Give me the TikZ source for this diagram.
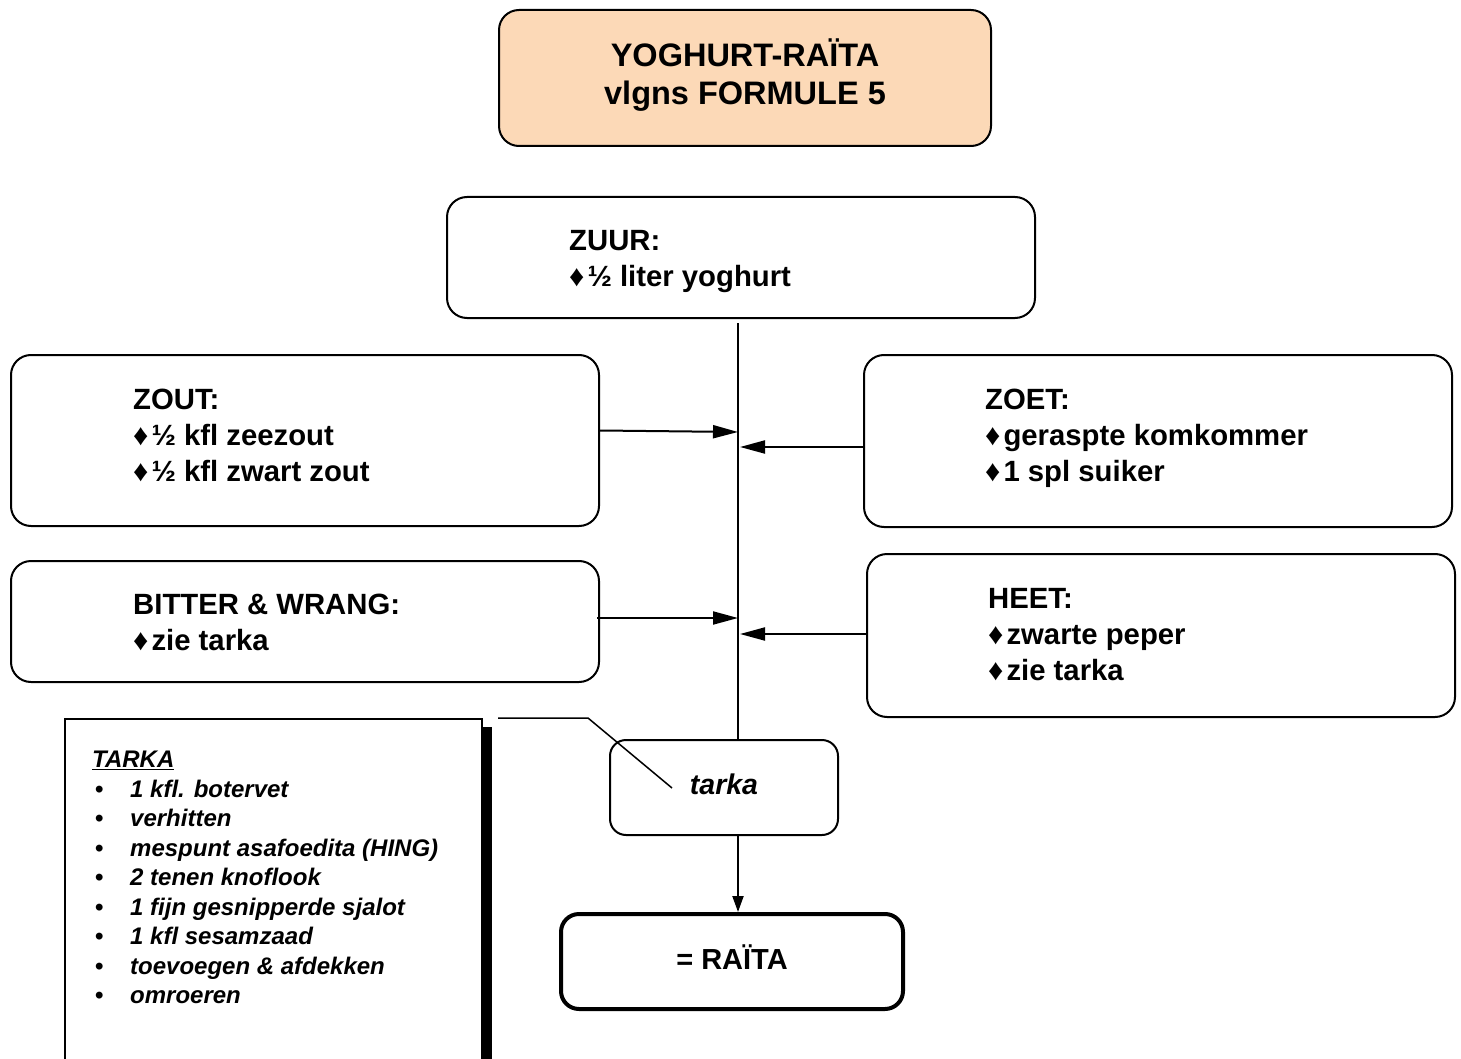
\documentclass[tikz,border=0pt]{standalone}
\usepackage{fontspec}
\setmainfont{Liberation Sans}
\usetikzlibrary{arrows.meta}
\definecolor{peach}{RGB}{252,217,183}
\newcommand{\dia}{{\fontsize{30}{30}\selectfont♦}\hspace{3pt}}
\newcommand{\lbul}{\makebox[38pt][l]{\hspace{3pt}\upshape•}}
\begin{document}
\begin{tikzpicture}[x=1pt,y=-1pt,
  box/.style={draw, line width=2pt, rounded corners=20pt, inner sep=0pt},
  listtext/.style={anchor=west, inner sep=0pt, align=left,
    font=\bfseries\fontsize{29.3}{36}\selectfont},
  conn/.style={line width=2pt},
  arr/.style={conn, -{Triangle[length=25pt,width=13pt]}},
  arrsmall/.style={conn, -{Triangle[length=16pt,width=11pt]}},
]
\clip (0,0) rectangle (1461,1059);
\fill[white] (0,0) rectangle (1461,1059);

% title
\node[box, fill=peach, minimum width=492pt, minimum height=136pt] (title) at (745,78) {};
\node[inner sep=0pt, align=center, font=\bfseries\fontsize{32.5}{38}\selectfont] (titletext) at (745,75)
  {YOGHURT-RAÏTA\\vlgns FORMULE 5};

% taste boxes
\node[box, minimum width=588pt, minimum height=121pt] (zuur) at (741,257.5) {};
\node[listtext] (zuurtext) at ([xshift=123pt,yshift=-4pt]zuur.west) {ZUUR:\\\dia½ liter yoghurt};
\node[box, minimum width=588pt, minimum height=171pt] (zout) at (305,440.5) {};
\node[listtext] (zouttext) at ([xshift=123pt,yshift=5pt]zout.west) {ZOUT:\\\dia½ kfl zeezout\\\dia½ kfl zwart zout};
\node[box, minimum width=588pt, minimum height=172pt] (zoet) at (1158,441) {};
\node[listtext] (zoettext) at ([xshift=122pt,yshift=3pt]zoet.west) {ZOET:\\\dia geraspte komkommer\\\dia 1 spl suiker};
\node[box, minimum width=588pt, minimum height=121pt] (bitter) at (305,621.5) {};
\node[listtext] (bittertext) at ([xshift=123pt,yshift=-1pt]bitter.west) {BITTER \& WRANG:\\\dia zie tarka};
\node[box, minimum width=588pt, minimum height=163pt] (heet) at (1161,635.5) {};
\node[listtext] (heettext) at ([xshift=122pt,yshift=1pt]heet.west) {HEET:\\\dia zwarte peper\\\dia zie tarka};

% tarka and result
\node[box, rounded corners=16pt, minimum width=228pt, minimum height=95pt,
  text height=20pt, text depth=6pt,
  font=\bfseries\itshape\fontsize{28.5}{34}\selectfont] (tarka) at (724,787.5) {tarka};
\node[box, line width=4pt, rounded corners=18pt, minimum width=342pt, minimum height=95pt,
  text height=21pt, text depth=6pt,
  font=\bfseries\fontsize{29}{34}\selectfont] (raita) at (732,961.5) {= RAÏTA};

% recipe box with shadow
\fill (481,727) rectangle (492,1080);
\node[draw, line width=1.5pt, fill=white, minimum width=417pt, minimum height=362pt,
  anchor=north west, inner sep=0pt] (recipe) at (64,718) {};
\node[anchor=north west, inner sep=0pt, align=left,
  font=\bfseries\itshape\fontsize{24}{29.5}\selectfont] (recipetext) at (92,751)
  {\underline{TARKA}\\
   \lbul 1 kfl. botervet\\
   \lbul verhitten\\
   \lbul mespunt asafoedita (HING)\\
   \lbul 2 tenen knoflook\\
   \lbul 1 fijn gesnipperde sjalot\\
   \lbul 1 kfl sesamzaad\\
   \lbul toevoegen \& afdekken\\
   \lbul omroeren};

% spine
\coordinate (spine) at (738,0);
\coordinate (s1) at (738,432);
\coordinate (s2) at (740,447);
\coordinate (s3) at (738,618);
\coordinate (s4) at (740,634);
\draw[conn] ([yshift=-4pt]zuur.south -| spine) -- (tarka.north -| spine);
\draw[arrsmall] (tarka.south -| spine) -- (raita.north -| spine);

\draw[arr] ([yshift=10pt]zout.east) -- (s1);
\draw[arr] ([xshift=2pt,yshift=-6pt]zoet.west) -- (s2);
\draw[arr] ([xshift=-3pt,yshift=3.5pt]bitter.east) -- (s3);
\draw[arr] ([yshift=1.5pt]heet.west) -- (s4);

% callout
\coordinate (c1) at (498,718);
\coordinate (c2) at (588,718);
\coordinate (c3) at (672,788);
\draw[line width=1.5pt] (c1) -- (c2) -- (c3);
\end{tikzpicture}
\end{document}
